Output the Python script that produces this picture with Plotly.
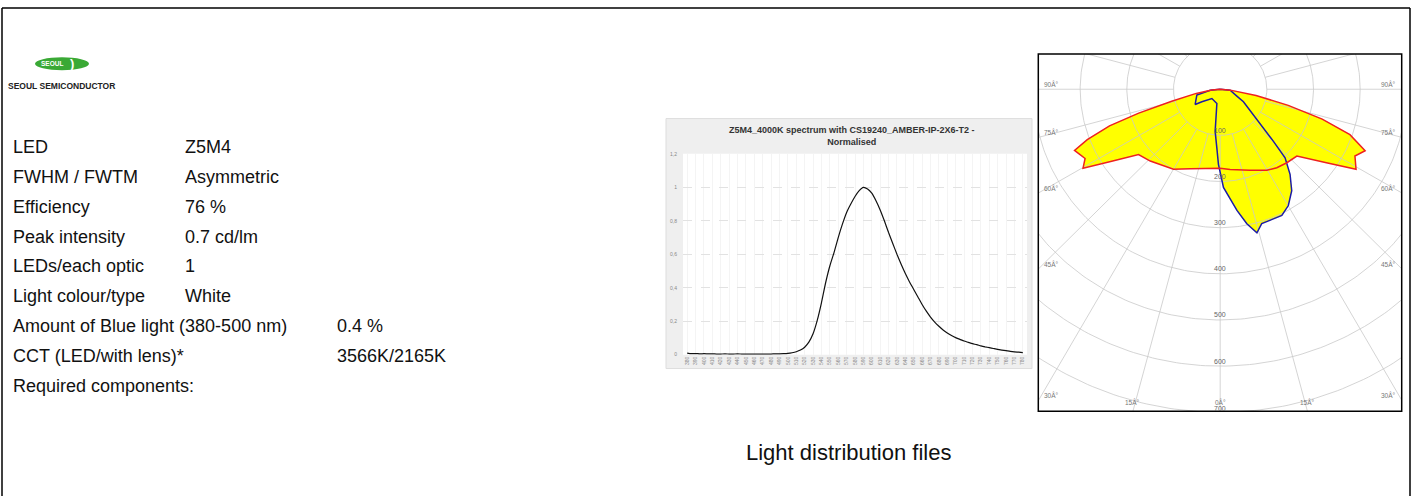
import numpy as np
import plotly.graph_objects as go

W, H = 1413, 499

# ---------------- data ----------------
spec_labels = ["LED", "FWHM / FWTM", "Efficiency", "Peak intensity", "LEDs/each optic",
               "Light colour/type", "Amount of Blue light (380-500 nm)",
               "CCT (LED/with lens)*", "Required components:"]
spec_values = ["Z5M4", "Asymmetric", "76 %", "0.7 cd/lm", "1", "White", "0.4 %",
               "3566K/2165K", ""]

wavelength = list(range(380, 785, 5))
spectrum = [0.010, 0.006, 0.007, 0.005, 0.006, 0.005, 0.005, 0.004, 0.004, 0.005,
            0.004, 0.004, 0.005, 0.004, 0.004, 0.004, 0.004, 0.004, 0.004, 0.004,
            0.004, 0.005, 0.005, 0.006, 0.008,
            0.012, 0.018, 0.028, 0.045, 0.075, 0.125, 0.205, 0.31, 0.43, 0.53,
            0.61, 0.70, 0.78, 0.85, 0.90, 0.945, 0.98, 1.00, 0.99, 0.965,
            0.92, 0.865, 0.80, 0.73, 0.665, 0.60, 0.54, 0.485, 0.435, 0.39,
            0.345, 0.30, 0.26, 0.225, 0.195, 0.17, 0.148, 0.13, 0.115, 0.102,
            0.092, 0.082, 0.074, 0.066, 0.060, 0.053, 0.047, 0.042, 0.037, 0.032,
            0.028, 0.024, 0.020, 0.017, 0.015, 0.013]
wl_ticks = list(range(380, 790, 10))
spec_yticks = [0, 0.2, 0.4, 0.6, 0.8, 1.0, 1.2]
spec_title = "Z5M4_4000K spectrum with CS19240_AMBER-IP-2X6-T2 -<br>Normalised"

# C0-C180 plane (red), gamma in degrees (negative = left half)
red_gamma = [-90, -85, -80, -76, -73.5, -71.5, -69, -67, -62.6, -59.8, -56.3, -51,
             -43.9, -34.1, -30, -20.4, -9.4, 0, 7, 20, 29.7, 35.5, 41.9, 48.6, 55,
             59.2, 63.4, 66.8, 70.5, 73.5, 76.5, 80, 85, 90]
red_intensity = [0, 18, 52, 107, 182, 250, 305, 339, 326, 340, 282, 225,
                 216, 203.5, 200, 184, 174, 171, 175, 187, 202, 209, 214, 219, 278,
                 339, 323, 338, 295, 228, 150, 78, 22, 0]
# C90-C270 plane (blue)
blue_gamma = [-90, -84, -75.6, -58.4, -55.2, -41.4, -12.9, -8.5, -6.7, -3.2, -1.3,
              1.9, 5.1, 7.8, 11.1, 14.2, 17, 20.6, 25.8, 30.1, 34.9, 39.1, 43.1,
              45.3, 49.8, 53.9, 61.4, 67.5, 84, 90]
blue_intensity = [0, 21.5, 51.6, 62.9, 47.7, 26.8, 31.6, 62, 92, 127.4, 162.8,
                  213, 239, 265, 297, 321, 304.6, 303.6, 303.7, 291.3, 268, 237.5, 203.6,
                  160.6, 102.9, 79.5, 56.8, 38.7, 21.5, 0]

ring_values = [100, 200, 300, 400, 500, 600, 700, 800]
ring_labels = ["100", "200", "300", "400", "500", "600", "700"]
side_angles = [90, 75, 60, 45, 30]
bottom_angles = [15, 0]
angle_suffix = "Â°"

# ---------------- helpers ----------------
def px(x):
    return x / W


def py(y):
    return 1 - y / H


def polar_xy(gamma, inten):
    g = np.radians(np.asarray(gamma, dtype=float))
    r = np.asarray(inten, dtype=float)
    return r * np.sin(g), -r * np.cos(g)


PX_RANGE = [-389.7, 389.0]
PY_RANGE = [-698.0, 76.2]
TXT = "Liberation Sans, Arial, Helvetica, sans-serif"

fig = go.Figure()

# ---------------- spectrum ----------------
fig.add_trace(go.Scatter(x=wavelength, y=spectrum, mode="lines",
                         line=dict(color="#111111", width=1.2, shape="spline", smoothing=0.6),
                         xaxis="x", yaxis="y", hoverinfo="skip"))

# ---------------- polar diagram ----------------
rx, ry = polar_xy(red_gamma, red_intensity)
bx, by = polar_xy(blue_gamma, blue_intensity)

fig.add_trace(go.Scatter(x=bx, y=by, mode="lines", fill="toself", fillcolor="#ffff00",
                         line=dict(width=0, color="rgba(0,0,0,0)"), xaxis="x2", yaxis="y2",
                         hoverinfo="skip"))
fig.add_trace(go.Scatter(x=rx, y=ry, mode="lines", fill="toself", fillcolor="#ffff00",
                         line=dict(width=0, color="rgba(0,0,0,0)"), xaxis="x2", yaxis="y2",
                         hoverinfo="skip"))

# grid: rings and spokes
t = np.linspace(0, 2 * np.pi, 361)
gx, gy = [], []
for r in ring_values:
    gx += list(r * np.cos(t)) + [None]
    gy += list(r * np.sin(t)) + [None]
for a in range(0, 360, 15):
    ar = np.radians(a)
    gx += [100 * np.sin(ar), 1200 * np.sin(ar), None]
    gy += [-100 * np.cos(ar), -1200 * np.cos(ar), None]
fig.add_trace(go.Scatter(x=gx, y=gy, mode="lines", line=dict(color="#c9c9c9", width=0.8),
                         xaxis="x2", yaxis="y2", hoverinfo="skip"))

fig.add_trace(go.Scatter(x=bx, y=by, mode="lines", line=dict(color="#1c1ca6", width=1.5),
                         xaxis="x2", yaxis="y2", hoverinfo="skip"))
fig.add_trace(go.Scatter(x=rx, y=ry, mode="lines", line=dict(color="#ee2020", width=1.5),
                         xaxis="x2", yaxis="y2", hoverinfo="skip"))

annotations = []

# ring labels (the outermost one sits on the lower edge, as in the source)
for r, lab in zip(ring_values, ring_labels):
    yv = max(-r, PY_RANGE[0] + 1)
    annotations.append(dict(x=0, y=yv, xref="x2", yref="y2", text=lab, showarrow=False,
                            xanchor="center", yshift=5 if yv == -r else 2,
                            font=dict(size=7, color="#666666", family=TXT)))
# angle labels on the sides
for a in side_angles:
    yv = 0.0 if a == 90 else -PX_RANGE[1] / np.tan(np.radians(a))
    for side in (-1, 1):
        annotations.append(dict(x=PX_RANGE[0] if side < 0 else PX_RANGE[1], y=yv,
                                xref="x2", yref="y2", text=f"{a}{angle_suffix}",
                                showarrow=False, xanchor="left" if side < 0 else "right",
                                xshift=4 if side < 0 else -4, yshift=5,
                                font=dict(size=6.5, color="#777777", family=TXT)))
for a in bottom_angles:
    sides = (-1, 1) if a else (1,)
    for side in sides:
        xv = side * (-PY_RANGE[0]) * np.tan(np.radians(a))
        annotations.append(dict(x=xv, y=PY_RANGE[0] + 1, xref="x2", yref="y2",
                                text=f"{a}{angle_suffix}", showarrow=False,
                                xanchor="center", yanchor="bottom", yshift=3,
                                font=dict(size=6.5, color="#777777", family=TXT)))

# spec table
for i, (lab, val) in enumerate(zip(spec_labels, spec_values)):
    yy = 145.5 + i * 30.3
    annotations.append(dict(x=px(11), y=py(yy), xref="paper", yref="paper", text=lab,
                            showarrow=False, xanchor="left", yanchor="middle",
                            font=dict(size=18, color="#111111", family=TXT)))
    if val:
        vx = 335 if i >= 6 else 183
        annotations.append(dict(x=px(vx), y=py(yy), xref="paper", yref="paper", text=val,
                                showarrow=False, xanchor="left", yanchor="middle",
                                font=dict(size=18, color="#111111", family=TXT)))

# logo
annotations.append(dict(x=px(51.5), y=py(61.5), xref="paper", yref="paper", text="<b>SEOUL</b>",
                        showarrow=False, xanchor="center", yanchor="middle",
                        font=dict(size=6.5, color="white", family=TXT)))
annotations.append(dict(x=px(71.5), y=py(61.5), xref="paper", yref="paper", text="<b>)</b>",
                        showarrow=False, xanchor="center", yanchor="middle",
                        font=dict(size=13, color="white", family=TXT)))
annotations.append(dict(x=px(6), y=py(84.3), xref="paper", yref="paper",
                        text="<b>SEOUL SEMICONDUCTOR</b>", showarrow=False, xanchor="left",
                        yanchor="middle", font=dict(size=8.5, color="#222222", family=TXT)))

# spectrum title
annotations.append(dict(x=px(852), y=py(135), xref="paper", yref="paper", text=f"<b>{spec_title}</b>",
                        showarrow=False, xanchor="center", yanchor="middle",
                        font=dict(size=9, color="#333333", family=TXT)))

# caption
annotations.append(dict(x=px(848.5), y=py(455), xref="paper", yref="paper",
                        text="Light distribution files", showarrow=False,
                        xanchor="center", yanchor="middle",
                        font=dict(size=22, color="#111111",
                                  family="Liberation Sans Narrow, Arial Narrow, Liberation Sans, sans-serif")))

shapes = [
    # outer frame
    dict(type="line", xref="paper", yref="paper", x0=px(2), x1=px(2), y0=py(5), y1=py(499),
         line=dict(color="black", width=1.5)),
    dict(type="line", xref="paper", yref="paper", x0=px(2), x1=px(1410), y0=py(5), y1=py(5),
         line=dict(color="black", width=1.5)),
    dict(type="line", xref="paper", yref="paper", x0=px(1410), x1=px(1410), y0=py(5), y1=py(499),
         line=dict(color="black", width=1.5)),
    # spectrum panel
    dict(type="rect", xref="paper", yref="paper", x0=px(666), x1=px(1032), y0=py(370), y1=py(117),
         fillcolor="#efefef", line=dict(color="#dddddd", width=1), layer="below"),
    dict(type="rect", xref="paper", yref="paper", x0=px(683), x1=px(1027), y0=py(356), y1=py(152.7),
         fillcolor="#ffffff", line=dict(width=0), layer="below"),
    # polar box
    dict(type="rect", xref="paper", yref="paper", x0=px(1038.3), x1=px(1401.7), y0=py(413.3),
         y1=py(51.7), line=dict(color="black", width=1.5), fillcolor="rgba(0,0,0,0)",
         layer="above"),
    # logo ellipse
    dict(type="circle", xref="paper", yref="paper", x0=px(35), x1=px(89), y0=py(68),
         y1=py(55), fillcolor="#3aa935", line=dict(width=0), layer="below"),
]

fig.update_layout(
    width=W, height=H, margin=dict(l=0, r=0, t=0, b=0),
    paper_bgcolor="white", plot_bgcolor="white", showlegend=False,
    separators=",.",
    xaxis=dict(domain=[px(683), px(1027)], range=[375, 785], tickvals=wl_ticks,
               tickangle=-90, tickfont=dict(size=5, color="#888888", family=TXT),
               showgrid=True, gridcolor="#f4f4f4", gridwidth=1, zeroline=False,
               showline=False, ticks="", anchor="y"),
    yaxis=dict(domain=[py(356), py(152.7)], range=[0, 1.2], tickvals=spec_yticks,
               tickfont=dict(size=5, color="#888888", family=TXT), showgrid=True,
               gridcolor="#e2e2e2", griddash="dash", gridwidth=1, zeroline=False,
               showline=False, ticks="", ticklabelstandoff=5, anchor="x"),
    xaxis2=dict(domain=[px(1038.3), px(1401.7)], range=PX_RANGE, visible=False, anchor="y2"),
    yaxis2=dict(domain=[py(413.3), py(51.7)], range=PY_RANGE, visible=False, anchor="x2"),
    annotations=annotations, shapes=shapes,
)

fig.write_html("out.html", config={"displayModeBar": False},
               post_script="document.body.style.margin='0';document.body.style.overflow='hidden';")
